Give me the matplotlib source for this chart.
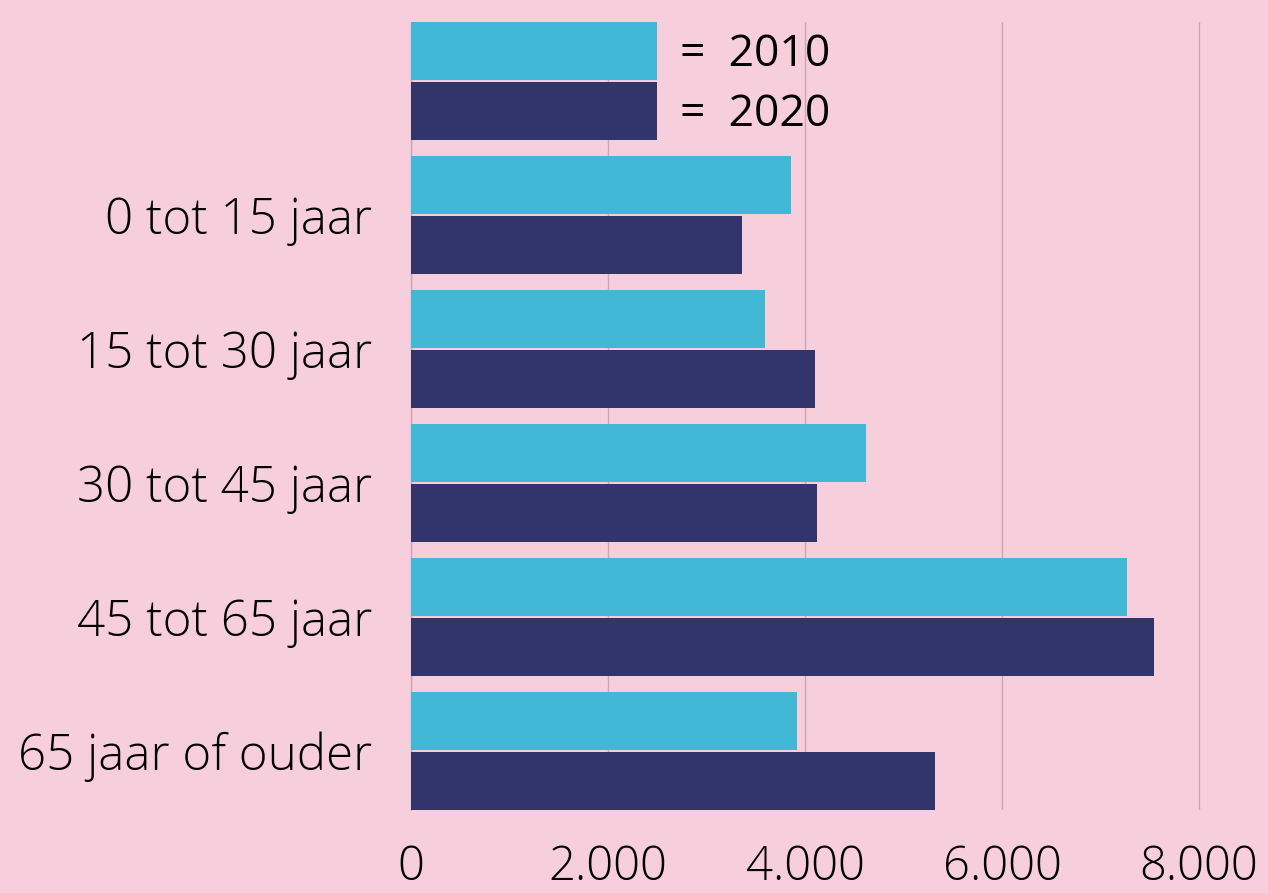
import matplotlib.pyplot as plt
import numpy as np

plt.rcParams['font.family'] = ['Open Sans', 'DejaVu Sans']

# data
categories = ['0 tot 15 jaar', '15 tot 30 jaar', '30 tot 45 jaar', '45 tot 65 jaar', '65 jaar of ouder']
values_2010 = [3860, 3590, 4620, 7270, 3920]
values_2020 = [3360, 4100, 4120, 7540, 5320]
legend_years = ['2010', '2020']
legend_value = 2500
xticks = [0, 2000, 4000, 6000, 8000]
xtick_labels = ['0', '2.000', '4.000', '6.000', '8.000']

bg = '#F7CEDC'
c2010 = '#42B7D6'
c2020 = '#31356C'
gridc = '#CDA6B6'

fig = plt.figure(figsize=(12.68, 8.93), dpi=100, facecolor=bg)
ax = fig.add_axes([411 / 1268, 1 - 810 / 893, 1 - 411 / 1268, (810 - 22) / 893])
ax.set_facecolor(bg)

h = 0.433
off = 0.224
y = np.arange(1, len(categories) + 1)

# legend group at position 0
ax.barh([0 - off], [legend_value], height=h, color=c2010, zorder=3)
ax.barh([0 + off], [legend_value], height=h, color=c2020, zorder=3)
for i, yr in enumerate(legend_years):
    ax.text(legend_value + 230, (i * 2 - 1) * off + 0.03, '=  ' + yr, fontsize=32,
            va='center', ha='left', color='black', zorder=4)

ax.barh(y - off, values_2010, height=h, color=c2010, zorder=3)
ax.barh(y + off, values_2020, height=h, color=c2020, zorder=3)

ax.set_ylim(len(categories) + off + h / 2, -off - h / 2)
ax.set_xlim(0, 8700)
ax.set_yticks(y)
ax.set_yticklabels(categories, fontsize=35.5, fontweight='light')
ax.set_xticks(xticks)
ax.set_xticklabels(xtick_labels, fontsize=34, fontweight='light')
ax.tick_params(axis='y', length=0, pad=28)
ax.tick_params(axis='x', length=0, pad=24)

ax.grid(axis='x', color=gridc, linewidth=1, zorder=0)
for s in ['top', 'right', 'bottom']:
    ax.spines[s].set_visible(False)
ax.spines['left'].set_color(gridc)
ax.spines['left'].set_linewidth(1)

fig.savefig('out.png', dpi=100, facecolor=bg)
